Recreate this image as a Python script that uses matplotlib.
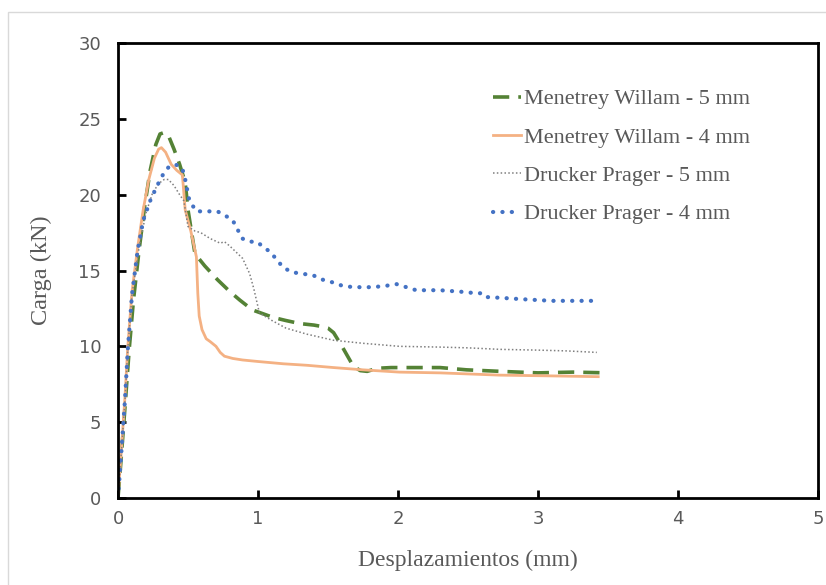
import matplotlib
matplotlib.use("Agg")
import matplotlib.pyplot as plt
from matplotlib.patches import Rectangle

# Menetrey Willam - 5 mm
mw5_x = [0, 0.02, 0.05, 0.08, 0.11, 0.15, 0.19, 0.23, 0.27, 0.30, 0.33, 0.36, 0.40, 0.44, 0.48, 0.50, 0.55, 0.62, 0.71, 0.80, 0.87, 0.96, 1.05, 1.11, 1.20, 1.30, 1.40, 1.46, 1.50, 1.54, 1.60, 1.68, 1.73, 1.78, 1.85, 1.95, 2.13, 2.30, 2.49, 2.73, 3.00, 3.25, 3.50]
mw5_y = [0, 2.3, 6.0, 9.8, 13.0, 16.3, 19.2, 21.6, 23.3, 24.0, 24.1, 23.9, 23.0, 22.0, 20.8, 19.0, 16.1, 15.3, 14.4, 13.6, 13.05, 12.4, 12.1, 11.9, 11.7, 11.5, 11.4, 11.3, 11.2, 10.9, 10.0, 8.7, 8.4, 8.35, 8.55, 8.6, 8.6, 8.6, 8.45, 8.35, 8.25, 8.3, 8.25]

# Menetrey Willam - 4 mm
mw4_x = [0, 0.02, 0.05, 0.07, 0.10, 0.14, 0.18, 0.22, 0.26, 0.29, 0.31, 0.34, 0.38, 0.42, 0.46, 0.48, 0.52, 0.56, 0.57, 0.58, 0.60, 0.63, 0.66, 0.70, 0.73, 0.76, 0.82, 0.89, 1.00, 1.18, 1.35, 1.54, 1.75, 2.01, 2.30, 2.73, 3.10, 3.43]
mw4_y = [0, 2.6, 6.7, 10.0, 13.6, 16.5, 19.0, 21.0, 22.4, 23.0, 23.1, 22.8, 22.0, 21.6, 21.3, 19.0, 17.6, 15.9, 13.5, 12.0, 11.1, 10.5, 10.3, 10.0, 9.6, 9.35, 9.2, 9.1, 9.0, 8.85, 8.75, 8.6, 8.45, 8.3, 8.25, 8.1, 8.05, 8.0]

# Drucker Prager - 5 mm
dp5_x = [0, 0.02, 0.05, 0.07, 0.10, 0.15, 0.20, 0.25, 0.30, 0.33, 0.36, 0.40, 0.44, 0.47, 0.50, 0.55, 0.59, 0.66, 0.73, 0.76, 0.80, 0.89, 0.92, 0.94, 0.97, 0.99, 1.01, 1.10, 1.20, 1.35, 1.54, 1.75, 2.01, 2.30, 2.50, 2.73, 3.00, 3.20, 3.42]
dp5_y = [0, 2.5, 6.5, 9.8, 13.4, 16.5, 18.8, 20.2, 20.8, 21.0, 21.0, 20.6, 20.0, 19.6, 17.9, 17.6, 17.5, 17.1, 16.8, 16.9, 16.6, 15.8, 15.2, 14.8, 13.8, 13.0, 12.2, 11.7, 11.2, 10.8, 10.4, 10.2, 10.0, 9.95, 9.9, 9.8, 9.75, 9.7, 9.6]

# Drucker Prager - 4 mm
dp4_x = [0, 0.02, 0.05, 0.07, 0.10, 0.14, 0.18, 0.23, 0.28, 0.32, 0.36, 0.40, 0.44, 0.46, 0.48, 0.51, 0.56, 0.62, 0.71, 0.77, 0.82, 0.86, 0.89, 0.94, 0.99, 1.09, 1.18, 1.24, 1.30, 1.39, 1.46, 1.54, 1.60, 1.68, 1.82, 1.92, 1.99, 2.06, 2.13, 2.30, 2.45, 2.56, 2.60, 2.63, 2.73, 2.90, 3.10, 3.25, 3.42]
dp4_y = [0, 2.5, 6.5, 9.8, 13.4, 16.3, 18.3, 19.6, 20.6, 21.3, 21.8, 22.0, 21.9, 21.7, 21.0, 19.6, 18.9, 18.9, 18.9, 18.6, 18.3, 17.6, 17.1, 16.9, 16.9, 16.2, 15.2, 14.9, 14.8, 14.7, 14.4, 14.2, 14.0, 13.9, 13.9, 14.0, 14.1, 13.9, 13.7, 13.7, 13.6, 13.5, 13.5, 13.25, 13.2, 13.1, 13.0, 13.0, 13.0]

x_ticks = [0, 1, 2, 3, 4, 5]
y_ticks = [0, 5, 10, 15, 20, 25, 30]

fig = plt.figure(figsize=(8.26, 5.85), dpi=100)
# thin outer border of the chart area
fig.patches.append(Rectangle((8 / 826, -0.05), 1.1, 1 - 12 / 585 + 0.05,
                             transform=fig.transFigure, fill=False,
                             edgecolor="#d9d9d9", linewidth=1.0))
ax = fig.add_axes([118 / 826, 1 - 498 / 585, 700 / 826, 455 / 585])

ax.plot(mw5_x, mw5_y, color="#548235", linewidth=2.6, linestyle=(0, (4.5, 2.5)),
        label="Menetrey Willam - 5 mm")
ax.plot(mw4_x, mw4_y, color="#F4B183", linewidth=2.0, linestyle="-",
        label="Menetrey Willam - 4 mm")
ax.plot(dp5_x, dp5_y, color="#7f7f7f", linewidth=1.1, linestyle=(0, (1, 1.5)),
        label="Drucker Prager - 5 mm")
ax.plot(dp4_x, dp4_y, color="#4472C4", linewidth=3.0, linestyle=(0, (0.05, 2.2)),
        label="Drucker Prager - 4 mm")
ax.lines[3].set_dash_capstyle("round")

ax.set_xlim(0, 5)
ax.set_ylim(0, 30)
ax.set_xticks(x_ticks)
ax.set_yticks(y_ticks)
for sp in ax.spines.values():
    sp.set_linewidth(2.0)
    sp.set_color("black")
ax.tick_params(direction="in", length=6, width=2, color="black",
               labelsize=13, labelcolor="#595959")
ax.tick_params(axis="y", pad=12)
ax.tick_params(axis="x", pad=9)

ax.set_xlabel("Desplazamientos (mm)", fontsize=17, family="Liberation Serif",
              color="#595959", labelpad=15)
ax.set_ylabel("Carga (kN)", fontsize=17.5, family="Liberation Serif",
              color="#595959", labelpad=19)

leg = ax.legend(loc="upper left", bbox_to_anchor=(0.507, 0.943), frameon=False,
                prop={"family": "Liberation Serif", "size": 16},
                labelcolor="#595959", handlelength=1.25, handletextpad=0.15,
                labelspacing=0.8)

fig.savefig("out.png", dpi=100)
